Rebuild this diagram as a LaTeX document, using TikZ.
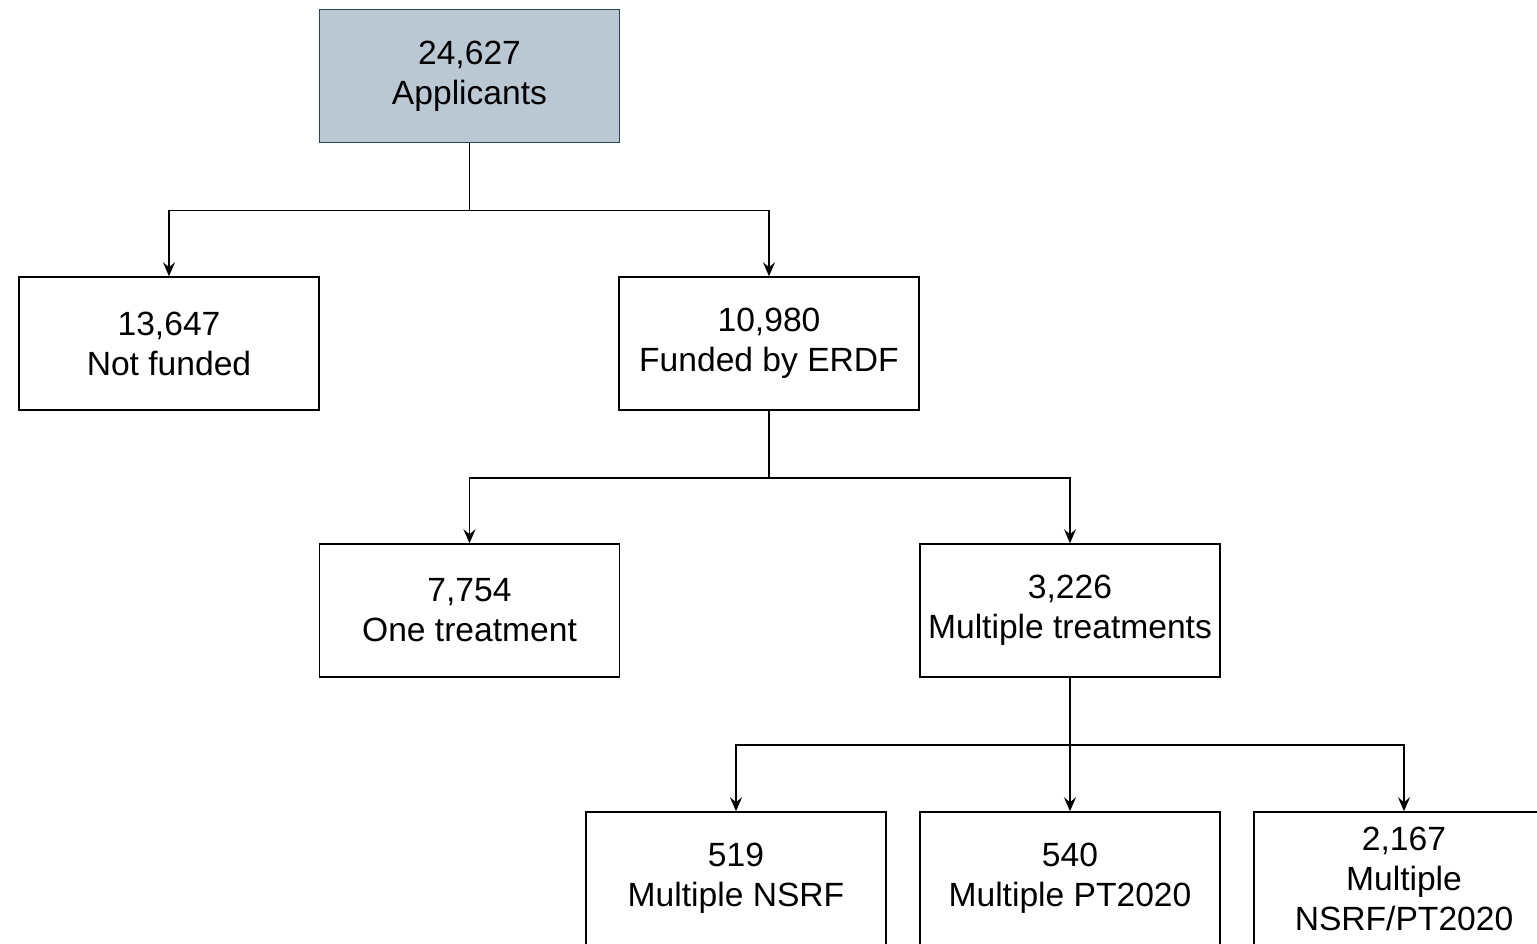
\documentclass[tikz,border=0pt]{standalone}
\usepackage{fontspec}
\setmainfont{Liberation Sans}
\usetikzlibrary{arrows.meta}

\definecolor{headfill}{HTML}{BAC8D3}
\definecolor{headline}{HTML}{23445D}

\begin{document}
\begin{tikzpicture}[x=0.5pt,y=-0.5pt]

\tikzset{
  box/.style = {draw, line width=0.75pt, minimum width=150pt, minimum height=66.5pt,
    inner sep=0pt, align=center, font=\fontsize{16.8}{20}\selectfont,
    execute at begin node=\rule{0pt}{21pt}},
  headbox/.style = {box, fill=headfill, draw=headline},
  arr/.style = {line width=0.75pt, -{Stealth[length=7pt,width=6pt,inset=2.5pt]}}
}

\clip (0,0) rectangle (1537,943);

\node[headbox] (app) at (469.5,76) {24,627\\Applicants};

\node[box] (nofund) at (169,343.5) {13,647\\Not funded};
\node[box] (erdf) at (769,343.5) {10,980\\Funded by ERDF};

\node[box] (one) at (469.5,610.5) {7,754\\One treatment};
\node[box] (multi) at (1070,610.5) {3,226\\Multiple treatments};

\node[box] (nsrf) at (736,878.5) {519\\Multiple NSRF};
\node[box] (pt) at (1070,878.5) {540\\Multiple PT2020};
\node[box] (both) at (1404,878.5) {2,167\\Multiple\\NSRF/PT2020};

\draw[arr] (app.south) -- ++(0,67) -| (nofund.north);
\draw[arr] (app.south) -- ++(0,67) -| (erdf.north);

\draw[arr] (erdf.south) -- ++(0,67) -| (one.north);
\draw[arr] (erdf.south) -- ++(0,67) -| (multi.north);

\draw[arr] (multi.south) -- ++(0,67) -| (nsrf.north);
\draw[arr] (multi.south) -- (pt.north);
\draw[arr] (multi.south) -- ++(0,67) -| (both.north);

\end{tikzpicture}
\end{document}
